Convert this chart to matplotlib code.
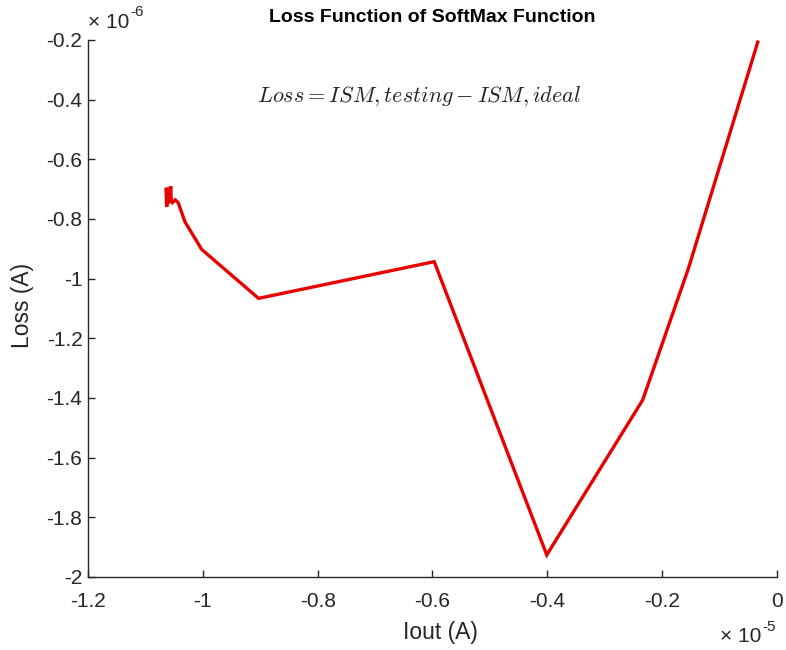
import matplotlib
matplotlib.use("Agg")
import matplotlib.pyplot as plt

plt.rcParams['font.family'] = ['Liberation Sans', 'DejaVu Sans']
plt.rcParams['mathtext.fontset'] = 'cm'

# Data (x in units of 1e-5 A, y in units of 1e-6 A)
iout = [-1.064, -1.063, -1.062, -1.061, -1.059, -1.058, -1.056, -1.055, -1.053,
        -1.048, -1.043, -1.031, -1.002, -0.903, -0.597, -0.401, -0.234, -0.154, -0.0335]
loss = [-0.700, -0.760, -0.705, -0.750, -0.695, -0.745, -0.690, -0.740, -0.745,
        -0.736, -0.745, -0.810, -0.902, -1.066, -0.943, -1.926, -1.407, -0.964, -0.207]

xticks = [-1.2, -1.0, -0.8, -0.6, -0.4, -0.2, 0.0]
xticklabels = ['-1.2', '-1', '-0.8', '-0.6', '-0.4', '-0.2', '0']
yticks = [-2.0, -1.8, -1.6, -1.4, -1.2, -1.0, -0.8, -0.6, -0.4, -0.2]
yticklabels = ['-2', '-1.8', '-1.6', '-1.4', '-1.2', '-1', '-0.8', '-0.6', '-0.4', '-0.2']

W, H = 786, 650
fig = plt.figure(figsize=(W / 100, H / 100), dpi=100)
ax = fig.add_axes([88 / W, 1 - 577 / H, (777 - 88) / W, (577 - 40) / H])

ax.plot(iout, loss, color='#e80000', linewidth=2.4, solid_joinstyle='miter')

ax.set_xlim(-1.2, 0)
ax.set_ylim(-2.0, -0.2)
ax.set_xticks(xticks)
ax.set_xticklabels(xticklabels)
ax.set_yticks(yticks)
ax.set_yticklabels(yticklabels)

gray = '#262626'
for s in ['top', 'right']:
    ax.spines[s].set_visible(False)
for s in ['left', 'bottom']:
    ax.spines[s].set_color(gray)
    ax.spines[s].set_linewidth(1.0)
ax.tick_params(direction='in', length=5, width=1.0, colors=gray, labelsize=15,
               labelcolor=gray)
ax.tick_params(axis='x', pad=11)
ax.tick_params(axis='y', pad=4)

fig.text(432 / W, 1 - 18 / H, 'Loss Function of SoftMax Function', fontweight='bold',
         fontsize=14, color='black', ha='center', va='center')
fig.text(440 / W, 1 - 633 / H, 'Iout (A)', fontsize=16.5, color=gray, ha='center', va='center')
fig.text(22 / W, 1 - 305 / H, 'Loss (A)', fontsize=16.5, color=gray, ha='center', va='center',
         rotation=90)

fig.text(88 / W, 1 - 22 / H, '× 10', fontsize=15, color=gray, ha='left', va='center')
fig.text(130 / W, 1 - 12 / H, '-6', fontsize=11, color=gray, ha='left', va='center')
fig.text(720 / W, 1 - 637 / H, '× 10', fontsize=15, color=gray, ha='left', va='center')
fig.text(762 / W, 1 - 627 / H, '-5', fontsize=11, color=gray, ha='left', va='center')

ax.text(0.48, 0.895, r'$Loss = ISM, testing - ISM, ideal$', transform=ax.transAxes,
        fontsize=16, ha='center', va='center', color='#222222')

fig.savefig('out.png', dpi=100, facecolor='white')
